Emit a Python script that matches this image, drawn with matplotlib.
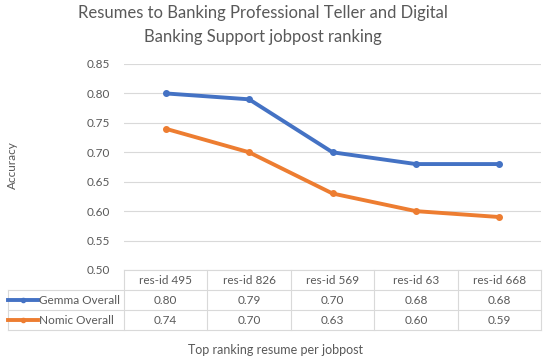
import matplotlib
matplotlib.use("Agg")
import matplotlib.pyplot as plt
from matplotlib.lines import Line2D

plt.rcParams['font.family'] = ['Lato', 'DejaVu Sans']

categories = ["res-id 495", "res-id 826", "res-id 569", "res-id 63", "res-id 668"]
series_names = ["Gemma Overall", "Nomic Overall"]
gemma = [0.80, 0.79, 0.70, 0.68, 0.68]
nomic = [0.74, 0.70, 0.63, 0.60, 0.59]
yticks = [0.50, 0.55, 0.60, 0.65, 0.70, 0.75, 0.80, 0.85]
colors = ["#4472C4", "#ED7D31"]
series = [gemma, nomic]

txt = "#595959"
grid = "#D9D9D9"

fig = plt.figure(figsize=(5.5, 3.6), dpi=100)
ax = fig.add_axes([124/550, 1-270/360, 417/550, 206/360])

x = list(range(len(categories)))
for vals, c in zip(series, colors):
    ax.plot(x, vals, color=c, lw=2.8, marker='o', ms=4, solid_capstyle='round')

ax.set_xlim(-0.5, len(categories)-0.5)
ax.set_ylim(0.50, 0.85)
ax.set_yticks(yticks)
ax.set_yticklabels([f"{v:.2f}" for v in yticks], color=txt, fontsize=8.5)
ax.tick_params(axis='y', length=0, pad=10)
ax.set_xticks([])
for s in ax.spines.values():
    s.set_visible(False)
ax.grid(axis='y', color=grid, lw=0.8)
ax.set_axisbelow(True)

# data table below axes (axes coordinates)
W = 417.0
rh = 20/206
left = -116/W
ncol = len(categories)
tr = ax.transAxes
lk = dict(color=grid, lw=0.8, transform=tr, clip_on=False)
ax.plot([0, 1], [0, 0], **lk)
for i in range(1, 4):
    ax.plot([left, 1], [-i*rh, -i*rh], **lk)
ax.plot([left, left], [-rh, -3*rh], **lk)
for j in range(ncol+1):
    ax.plot([j/ncol, j/ncol], [0, -3*rh], **lk)
for j, cat in enumerate(categories):
    ax.text((j+0.5)/ncol, -0.5*rh, cat, transform=tr, ha='center', va='center',
            fontsize=8.5, color=txt)
for i, (name, vals, c) in enumerate(zip(series_names, series, colors)):
    yc = -(i+1.5)*rh
    ax.add_line(Line2D([(8-124)/W, (38-124)/W], [yc, yc], color=c, lw=2.8,
                       transform=tr, clip_on=False))
    ax.add_line(Line2D([(23-124)/W], [yc], color=c, marker='o', ms=3,
                       transform=tr, clip_on=False))
    ax.text((39-124)/W, yc, name, transform=tr, ha='left', va='center',
            fontsize=8.5, color=txt)
    for j, v in enumerate(vals):
        ax.text((j+0.5)/ncol, yc, f"{v:.2f}", transform=tr, ha='center',
                va='center', fontsize=8.5, color=txt)

fig.text(12/550, 1-165/360, "Accuracy", rotation=90, ha='center', va='center',
         fontsize=8.5, color=txt)
fig.text(275/550, 1-350/360, "Top ranking resume per jobpost", ha='center',
         va='center', fontsize=9, color=txt)
fig.text(263/550, 1-25/360,
         "Resumes to Banking Professional Teller and Digital\nBanking Support jobpost ranking",
         ha='center', va='center', fontsize=12, color=txt, linespacing=1.55)

fig.savefig("out.png", dpi=100)
